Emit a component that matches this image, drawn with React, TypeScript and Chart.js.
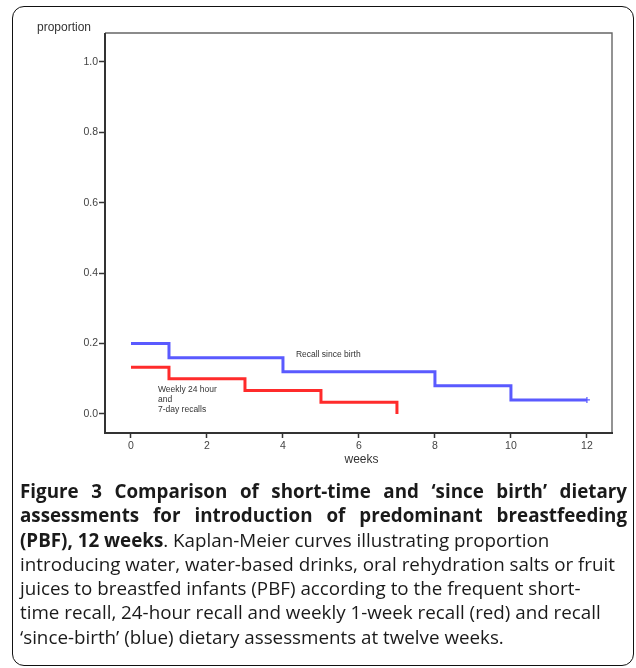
import React, { useEffect, useRef } from "react";
import { Chart, registerables } from "chart.js";

Chart.register(...registerables);

const xTicks = [0, 2, 4, 6, 8, 10, 12];
const yTicks = [0, 0.2, 0.4, 0.6, 0.8, 1.0];

const sinceBirthWeeks = [0, 1, 4, 8, 10, 12];
const sinceBirthValues = [0.2, 0.16, 0.12, 0.08, 0.04, 0.04];

const weeklyWeeks = [0, 1, 3, 5, 7];
const weeklyValues = [0.133, 0.1, 0.067, 0.033, 0.0];

const FONT = "'Liberation Sans', Arial, Helvetica, sans-serif";

const annotations = [
  { text: "Recall since birth", x: 4.34, y: 0.168 },
  { text: "Weekly 24 hour", x: 0.71, y: 0.068 },
  { text: "and", x: 0.71, y: 0.04 },
  { text: "7-day recalls", x: 0.71, y: 0.011 },
];

const framePlugin = {
  id: "frame",
  beforeDatasetsDraw(chart: any) {
    const { ctx, chartArea } = chart;
    const { left, right, top, bottom } = chartArea;
    ctx.save();
    ctx.strokeStyle = "#666";
    ctx.lineWidth = 1.4;
    ctx.beginPath();
    ctx.moveTo(left, top);
    ctx.lineTo(right, top);
    ctx.lineTo(right, bottom);
    ctx.stroke();
    ctx.strokeStyle = "#333";
    ctx.lineWidth = 2;
    ctx.beginPath();
    ctx.moveTo(left, top);
    ctx.lineTo(left, bottom);
    ctx.lineTo(right + 1, bottom);
    ctx.stroke();
    ctx.restore();
  },
  afterDraw(chart: any) {
    const { ctx, scales, chartArea } = chart;
    ctx.save();
    ctx.fillStyle = "#333";
    ctx.textBaseline = "middle";
    ctx.textAlign = "left";
    ctx.font = `12px ${FONT}`;
    ctx.fillText("proportion", 37, 28);
    ctx.textAlign = "center";
    ctx.fillText("weeks", (chartArea.left + chartArea.right) / 2 + 3, 460);
    ctx.textAlign = "left";
    ctx.font = `8.5px ${FONT}`;
    for (const a of annotations) {
      ctx.fillText(a.text, scales.x.getPixelForValue(a.x), scales.y.getPixelForValue(a.y));
    }
    ctx.restore();
  },
};

function KMChart() {
  const ref = useRef<HTMLCanvasElement>(null);
  useEffect(() => {
    if (!ref.current) return;
    const chart = new Chart(ref.current, {
      type: "line",
      data: {
        datasets: [
          {
            label: "Recall since birth",
            data: sinceBirthWeeks.map((w, i) => ({ x: w, y: sinceBirthValues[i] })),
            borderColor: "#5a5aff",
            backgroundColor: "#5a5aff",
            borderWidth: 3,
            stepped: "before",
            pointRadius: sinceBirthWeeks.map((_, i) => (i === sinceBirthWeeks.length - 1 ? 3 : 0)),
            pointStyle: "cross",
            pointBorderWidth: 1.2,
            fill: false,
          },
          {
            label: "Weekly 24 hour and 7-day recalls",
            data: weeklyWeeks.map((w, i) => ({ x: w, y: weeklyValues[i] })),
            borderColor: "#ff2b2b",
            backgroundColor: "#ff2b2b",
            borderWidth: 3,
            stepped: "before",
            pointRadius: 0,
            fill: false,
          },
        ],
      },
      options: {
        animation: false,
        responsive: false,
        devicePixelRatio: 1,
        layout: { padding: { left: 0, top: 33, right: 24, bottom: 0 } },
        plugins: { legend: { display: false }, tooltip: { enabled: false } },
        scales: {
          x: {
            type: "linear",
            min: -0.684,
            max: 12.66,
            afterBuildTicks: (s: any) => {
              s.ticks = xTicks.map((v) => ({ value: v }));
            },
            afterFit: (s: any) => {
              s.height = 47;
            },
            border: { display: false },
            grid: {
              drawOnChartArea: false,
              drawTicks: true,
              tickLength: 5,
              tickColor: "#333",
              tickWidth: 1.5,
            },
            ticks: {
              color: "#444",
              font: { family: FONT, size: 10.5 },
              padding: 2,
              maxRotation: 0,
              autoSkip: false,
              callback: (v: any) => String(v),
            },
          },
          y: {
            type: "linear",
            min: -0.054,
            max: 1.082,
            afterBuildTicks: (s: any) => {
              s.ticks = yTicks.map((v) => ({ value: v }));
            },
            afterFit: (s: any) => {
              s.width = 105;
            },
            border: { display: false },
            grid: {
              drawOnChartArea: false,
              drawTicks: true,
              tickLength: 6,
              tickColor: "#333",
              tickWidth: 1.5,
            },
            ticks: {
              color: "#444",
              font: { family: FONT, size: 10.5 },
              padding: 1,
              autoSkip: false,
              callback: (v: any) => Number(v).toFixed(1),
            },
          },
        },
      },
      plugins: [framePlugin],
    });
    return () => chart.destroy();
  }, []);
  return (
    <canvas
      ref={ref}
      width={636}
      height={480}
      style={{ position: "absolute", left: 0, top: 0, width: 636, height: 480 }}
    />
  );
}

const captionLines: { bold?: string; normal?: string; justify?: boolean }[] = [
  { bold: "Figure 3 Comparison of short-time and \u2018since birth\u2019 dietary", justify: true },
  { bold: "assessments for introduction of predominant breastfeeding", justify: true },
  { bold: "(PBF), 12 weeks", normal: ". Kaplan-Meier curves illustrating proportion" },
  { normal: "introducing water, water-based drinks, oral rehydration salts or fruit" },
  { normal: "juices to breastfed infants (PBF) according to the frequent short-" },
  { normal: "time recall, 24-hour recall and weekly 1-week recall (red) and recall" },
  { normal: "\u2018since-birth\u2019 (blue) dietary assessments at twelve weeks." },
];

export default function App() {
  return (
    <div>
      <div
        style={{
          position: "absolute",
          left: 12,
          top: 6,
          width: 622,
          height: 660,
          border: "1.6px solid #111",
          borderRadius: 12,
          boxSizing: "border-box",
        }}
      />
      <KMChart />
      <div
        style={{
          position: "absolute",
          left: 20,
          top: 479,
          width: 607,
          fontFamily: "'Open Sans', sans-serif",
          fontSize: 18.8,
          lineHeight: "24.3px",
          color: "#1a1a1a",
        }}
      >
        {captionLines.map((l, i) => (
          <div
            key={i}
            style={{
              whiteSpace: l.justify ? "normal" : "nowrap",
              textAlign: l.justify ? "justify" : "left",
              textAlignLast: l.justify ? "justify" : "left",
              height: "24.3px",
            }}
          >
            {l.bold && <span style={{ fontWeight: 700 }}>{l.bold}</span>}
            {l.normal && <span>{l.normal}</span>}
          </div>
        ))}
      </div>
    </div>
  );
}
